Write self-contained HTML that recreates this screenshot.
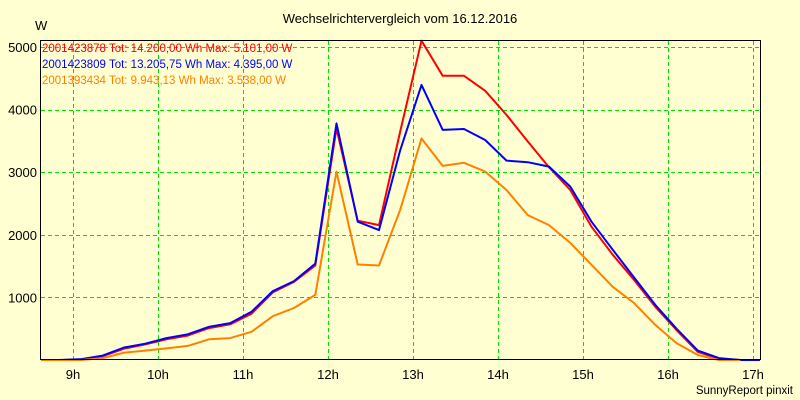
<!DOCTYPE html>
<html><head><meta charset="utf-8">
<style>
html,body{margin:0;padding:0;background:#ffffd2;}
svg{display:block;font-family:"Liberation Sans",sans-serif;}
</style></head>
<body>
<svg id="chart" width="800" height="400" viewBox="0 0 800 400">
<rect x="0" y="0" width="800" height="400" fill="#ffffd2"/>
<text x="400" y="23" text-anchor="middle" font-size="13" fill="#000">Wechselrichtervergleich vom 16.12.2016</text>
<text x="35" y="30" font-size="13" fill="#000">W</text>
<g id="grid"></g>
<g id="series"></g>
<rect x="40.5" y="40.5" width="720" height="319" fill="none" stroke="#000" stroke-width="1"/>
<g id="ticks"></g>
<g font-size="11.5">
<text x="42" y="52" fill="#ff0000">2001423878 Tot: 14.200,00 Wh Max: 5.101,00 W</text>
<text x="42" y="68" fill="#0000ff">2001423809 Tot: 13.205,75 Wh Max: 4.395,00 W</text>
<text x="42" y="84" fill="#ff8000">2001393434 Tot: 9.943,13 Wh Max: 3.538,00 W</text>
</g>
<text x="793" y="394" text-anchor="end" font-size="11.5" fill="#000">SunnyReport pinxit</text>
</svg>
<script>
const times = [8.6,8.85,9.1,9.35,9.6,9.85,10.1,10.35,10.6,10.85,11.1,11.35,11.6,11.85,12.1,12.35,12.6,12.85,13.1,13.35,13.6,13.85,14.1,14.35,14.6,14.85,15.1,15.35,15.6,15.85,16.1,16.35,16.6,16.85,17.1];
const redValues = [0,0,10,60,180,250,330,390,510,570,740,1080,1250,1510,3700,2225,2155,3650,5101,4540,4540,4300,3915,3490,3080,2715,2130,1680,1280,850,480,130,20,0,null];
const blueValues = [0,0,15,70,200,260,350,410,530,590,770,1100,1260,1540,3780,2210,2075,3350,4395,3675,3690,3515,3185,3160,3090,2770,2210,1760,1320,880,500,150,30,0,0];
const orangeValues = [0,0,0,30,117,150,185,225,330,350,450,700,830,1040,3010,1525,1510,2400,3538,3100,3150,3010,2715,2315,2155,1870,1520,1170,910,560,270,80,0,0,null];
const xTickLabels = ["9h","10h","11h","12h","13h","14h","15h","16h","17h"];
const xTickHours = [9,10,11,12,13,14,15,16,17];
const yTickValues = [1000,2000,3000,4000,5000];
const yTickLabels = ["1000","2000","3000","4000","5000"];

const X0=41, X1=760, Y0=359, Y1=41;
function xScale(h){ return 73 + (h-9)*85; }
function yScale(v){ return 360 - v*0.0626; }
const NS="http://www.w3.org/2000/svg";
const grid=document.getElementById('grid');
const ticks=document.getElementById('ticks');
const series=document.getElementById('series');

xTickHours.forEach((h,i)=>{
  const x=Math.round(xScale(h))+0.5;
  const l=document.createElementNS(NS,'line');
  l.setAttribute('x1',x);l.setAttribute('x2',x);l.setAttribute('y1',Y1);l.setAttribute('y2',Y0);
  l.setAttribute('stroke','#00e000');l.setAttribute('stroke-dasharray','4,3');
  
  
  grid.appendChild(l);
  const t=document.createElementNS(NS,'text');
  t.setAttribute('x',xScale(h));t.setAttribute('y',379);t.setAttribute('text-anchor','middle');t.setAttribute('font-size','13');
  t.textContent=xTickLabels[i];
  
  
  ticks.appendChild(t);
});
yTickValues.forEach((v,i)=>{
  const y=Math.round(yScale(v))+0.5;
  const l=document.createElementNS(NS,'line');
  l.setAttribute('x1',X0);l.setAttribute('x2',X1);l.setAttribute('y1',y);l.setAttribute('y2',y);
  l.setAttribute('stroke','#00e000');l.setAttribute('stroke-dasharray','4,3');
  
  
  grid.appendChild(l);
  const t=document.createElementNS(NS,'text');
  t.setAttribute('x',37);t.setAttribute('y',yScale(v)+5);t.setAttribute('text-anchor','end');t.setAttribute('font-size','13');
  t.textContent=yTickLabels[i];
  
  
  ticks.appendChild(t);
});
function drawSeries(vals,color,name){
  const pts=[];
  vals.forEach((v,i)=>{ if(v!==null){ pts.push(Math.max(X0,Math.min(X1,xScale(times[i]))).toFixed(1)+','+yScale(v).toFixed(1)); } });
  const p=document.createElementNS(NS,'polyline');
  p.setAttribute('points',pts.join(' '));
  p.setAttribute('fill','none');p.setAttribute('stroke',color);p.setAttribute('stroke-width','2');
  p.setAttribute('stroke-linejoin','round');
  
  
  series.appendChild(p);
}
drawSeries(redValues,'#ff0000','series-2001423878');
drawSeries(blueValues,'#0000ff','series-2001423809');
drawSeries(orangeValues,'#ff8000','series-2001393434');
</script>
</body></html>
